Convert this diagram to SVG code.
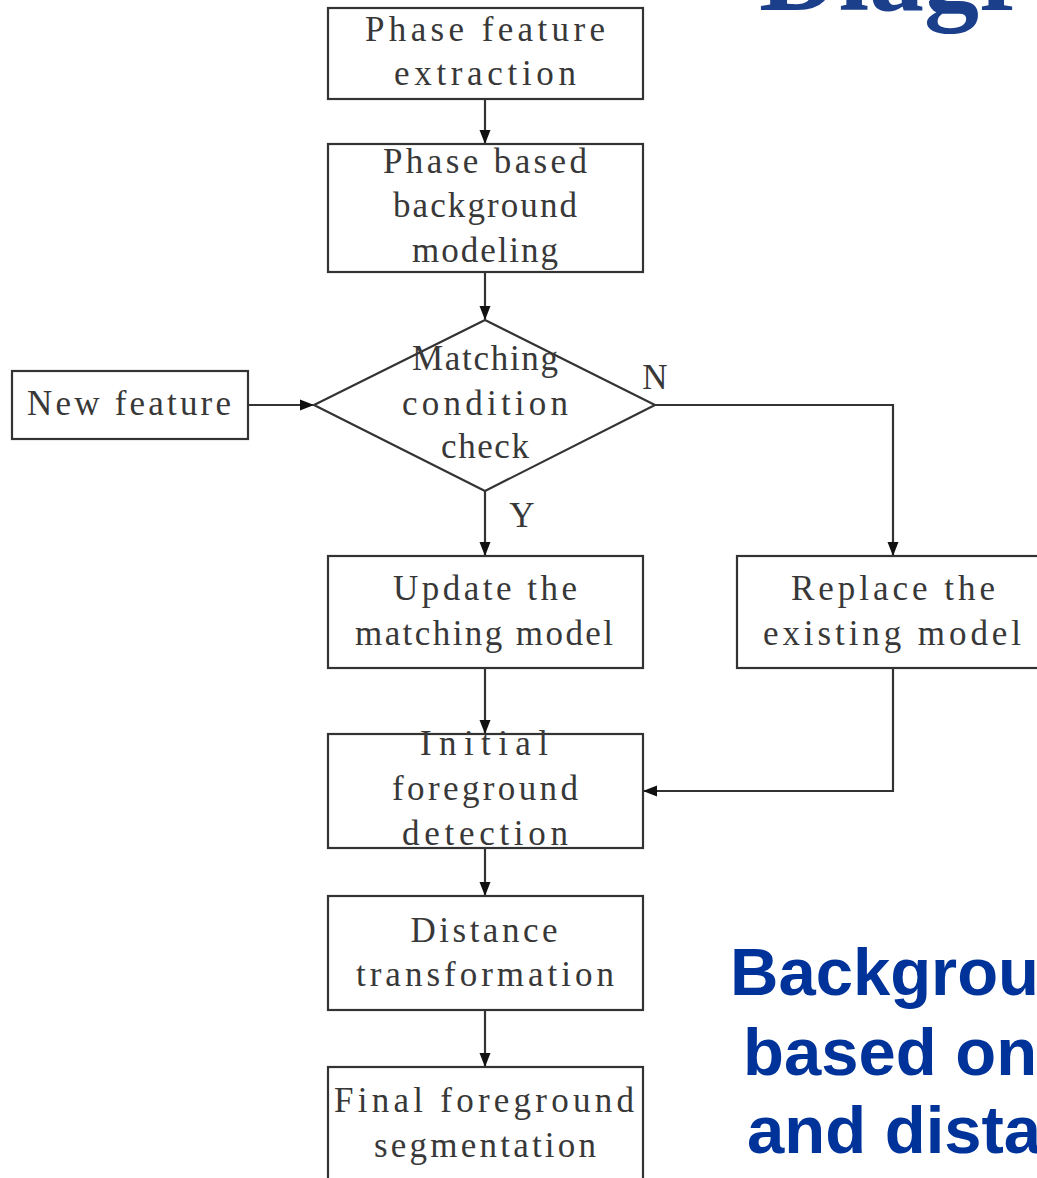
<svg xmlns="http://www.w3.org/2000/svg" width="1037" height="1178" viewBox="0 0 1037 1178">
<style>
.box{fill:#fff;stroke:#333;stroke-width:2.2}
.t{font-family:"Liberation Serif","Times New Roman",serif;font-size:35px;fill:#383838;text-anchor:middle}
.c{fill:none;stroke:#333;stroke-width:2.2}
.blue{font-family:"Liberation Sans",Arial,sans-serif;font-weight:bold;font-size:67px;fill:#003399}
</style>
<defs>
<marker id="ah" markerWidth="14" markerHeight="14" refX="13" refY="7" orient="auto" markerUnits="userSpaceOnUse">
<path d="M0,1.5 L14,7 L0,12.5 Z" fill="#111"/>
</marker>
</defs>
<rect width="1037" height="1178" fill="#fff"/>
<text x="759" y="10" font-family="Liberation Serif,'Times New Roman',serif" font-weight="bold" font-size="110" fill="#1b3f8b">Diagr</text>
<text class="blue" x="730" y="995">Backgrou</text>
<text class="blue" x="743" y="1075">based on</text>
<text class="blue" x="747" y="1153">and dista</text>
<g id="connectors">
<path class="c" d="M485,99 V143" marker-end="url(#ah)"/>
<path class="c" d="M485,272 V319" marker-end="url(#ah)"/>
<path class="c" d="M248,405 H313" marker-end="url(#ah)"/>
<path class="c" d="M485,491 V555" marker-end="url(#ah)"/>
<path class="c" d="M655,405 H893 V555" marker-end="url(#ah)"/>
<path class="c" d="M485,668 V733" marker-end="url(#ah)"/>
<path class="c" d="M893,668 V791 H644" marker-end="url(#ah)"/>
<path class="c" d="M485,848 V895" marker-end="url(#ah)"/>
<path class="c" d="M485,1010 V1066" marker-end="url(#ah)"/>
<text class="t" x="522" y="527">Y</text>
<text class="t" x="655" y="389">N</text>
</g>
<g id="n1"><rect class="box" x="328" y="8" width="315" height="91"/>
<text class="t" x="485" y="41" textLength="240" lengthAdjust="spacing">Phase feature</text>
<text class="t" x="485" y="85" textLength="182" lengthAdjust="spacing">extraction</text></g>
<g id="n2"><rect class="box" x="328" y="144" width="315" height="128"/>
<text class="t" x="485" y="173" textLength="204" lengthAdjust="spacing">Phase based</text>
<text class="t" x="485" y="217" textLength="184" lengthAdjust="spacing">background</text>
<text class="t" x="485" y="262" textLength="146" lengthAdjust="spacing">modeling</text></g>
<g id="n3"><polygon class="box" points="485,320 655,405 485,491 314,405"/>
<text class="t" x="485" y="370" textLength="146" lengthAdjust="spacing">Matching</text>
<text class="t" x="485" y="415" textLength="166" lengthAdjust="spacing">condition</text>
<text class="t" x="485" y="458" textLength="88" lengthAdjust="spacing">check</text></g>
<g id="n4"><rect class="box" x="12" y="371" width="236" height="68"/>
<text class="t" x="129" y="415" textLength="204" lengthAdjust="spacing">New feature</text></g>
<g id="n5"><rect class="box" x="328" y="556" width="315" height="112"/>
<text class="t" x="485" y="600" textLength="184" lengthAdjust="spacing">Update the</text>
<text class="t" x="484" y="645" textLength="258" lengthAdjust="spacing">matching model</text></g>
<g id="n6"><rect class="box" x="737" y="556" width="320" height="112"/>
<text class="t" x="893" y="600" textLength="204" lengthAdjust="spacing">Replace the</text>
<text class="t" x="892" y="645" textLength="258" lengthAdjust="spacing">existing model</text></g>
<g id="n7"><rect class="box" x="328" y="734" width="315" height="114"/>
<text class="t" x="484" y="755" textLength="128" lengthAdjust="spacing">Initial</text>
<text class="t" x="485" y="800" textLength="186" lengthAdjust="spacing">foreground</text>
<text class="t" x="485" y="845" textLength="166" lengthAdjust="spacing">detection</text></g>
<g id="n8"><rect class="box" x="328" y="896" width="315" height="114"/>
<text class="t" x="484" y="942" textLength="147" lengthAdjust="spacing">Distance</text>
<text class="t" x="485" y="986" textLength="258" lengthAdjust="spacing">transformation</text></g>
<g id="n9"><rect class="box" x="328" y="1067" width="315" height="130"/>
<text class="t" x="484" y="1112" textLength="300" lengthAdjust="spacing">Final foreground</text>
<text class="t" x="485" y="1157" textLength="222" lengthAdjust="spacing">segmentation</text></g>
</svg>
